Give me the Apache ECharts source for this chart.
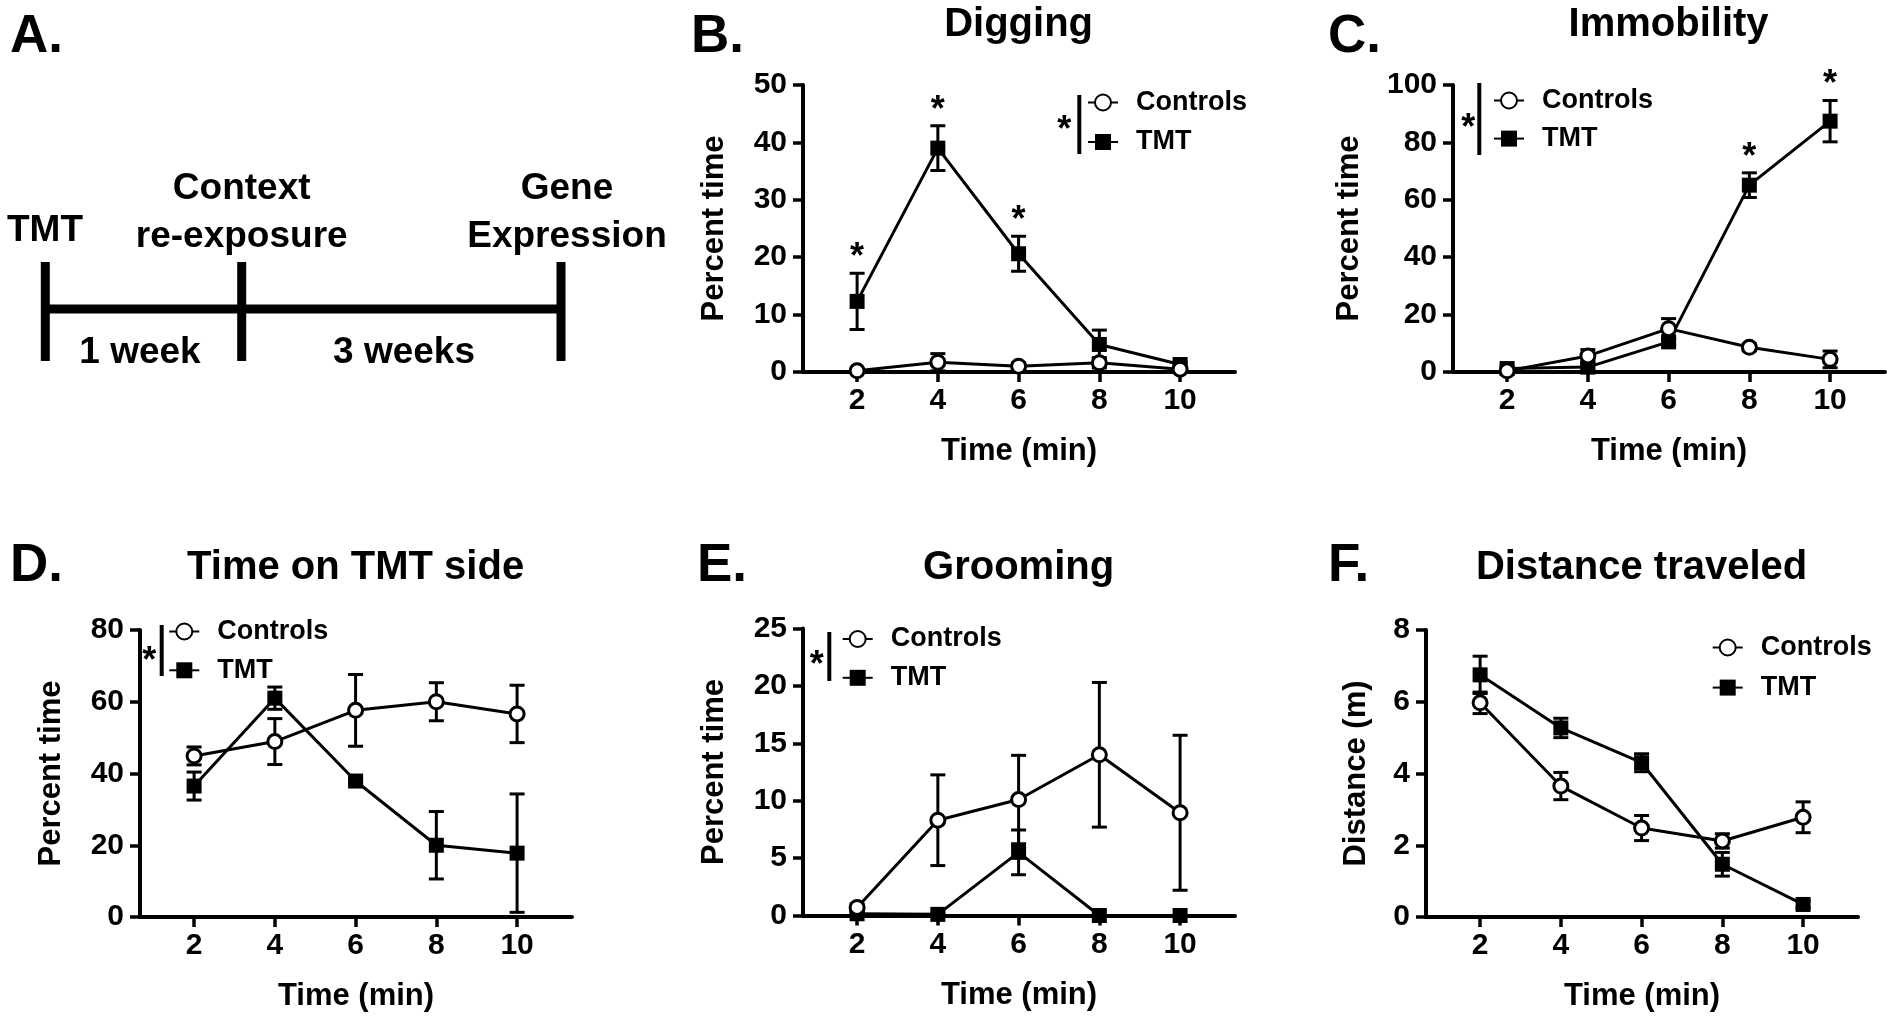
<!DOCTYPE html>
<html><head><meta charset="utf-8">
<script src="https://cdn.jsdelivr.net/npm/echarts@6/dist/echarts.min.js"></script>
<style>html,body{margin:0;padding:0;background:#fff}#c{width:1892px;height:1019px}</style>
</head><body><div id="c"></div>
<script>
// ---------------- data ----------------
const times = [2, 4, 6, 8, 10];
const xTicks = [2, 4, 6, 8, 10];

// B. Digging
const digCtrl = [0.2, 1.7, 1.0, 1.6, 0.5];
const digCtrlErr = [0.2, 1.5, 0.6, 0.9, 0.3];
const digTmt = [12.3, 39.0, 20.6, 4.8, 1.3];
const digTmtErr = [4.9, 3.9, 3.05, 2.5, 0.4];
const digStars = [2, 4, 6];

// C. Immobility
const immCtrl = [0.4, 5.6, 15.1, 8.6, 4.4];
const immCtrlErr = [0.8, 2.2, 3.5, 1.2, 2.9];
const immTmt = [1.2, 1.7, 10.5, 65.1, 87.4];
const immTmtErr = [0.8, 1.0, 1.2, 4.3, 7.2];
const immStars = [8, 10];

// D. Time on TMT side
const sideCtrl = [44.9, 48.9, 57.6, 60.0, 56.6];
const sideCtrlErr = [2.5, 6.4, 10.0, 5.3, 8.0];
const sideTmt = [36.5, 61.0, 37.9, 20.0, 17.8];
const sideTmtErr = [3.9, 3.1, 0.8, 9.4, 16.5];
const sideStars = [];

// E. Grooming
const groomCtrl = [0.7, 8.3, 10.1, 14.0, 8.95];
const groomCtrlErr = [0.3, 3.95, 3.85, 6.3, 6.75];
const groomTmt = [0.15, 0.1, 5.5, 0.0, 0.0];
const groomTmtErr = [0.1, 0.1, 1.95, 0, 0];
const groomStars = [];

// F. Distance traveled
const distCtrl = [5.97, 3.65, 2.48, 2.12, 2.78];
const distCtrlErr = [0.3, 0.38, 0.35, 0.2, 0.43];
const distTmt = [6.75, 5.27, 4.3, 1.47, 0.35];
const distTmtErr = [0.52, 0.27, 0.25, 0.33, 0.1];
const distStars = [];

const legendNames = ['Controls', 'TMT'];

// ---------------- layout ----------------
const FONT = '"Liberation Sans", Arial, sans-serif';
const panels = [
  {title: 'Digging', yName: 'Percent time', left: 803, top: 85, ymax: 50, yint: 10, nameGap: 73,
   ctrl: digCtrl, ctrlErr: digCtrlErr, tmt: digTmt, tmtErr: digTmtErr, stars: digStars,
   legLeft: 1087, legTop: 88.5, legGap: 11.5, sig: {bar: 1079.3, y1: 95, y2: 154, sx: 1064.3, sy: 121.7}},
  {title: 'Immobility', yName: 'Percent time', left: 1453, top: 85, ymax: 100, yint: 20, nameGap: 88,
   ctrl: immCtrl, ctrlErr: immCtrlErr, tmt: immTmt, tmtErr: immTmtErr, stars: immStars,
   legLeft: 1493, legTop: 86.5, legGap: 10.1, sig: {bar: 1479.3, y1: 83, y2: 155, sx: 1468.3, sy: 120}},
  {title: 'Time on TMT side', yName: 'Percent time', left: 140, top: 630, ymax: 80, yint: 20, nameGap: 73,
   ctrl: sideCtrl, ctrlErr: sideCtrlErr, tmt: sideTmt, tmtErr: sideTmtErr, stars: sideStars,
   legLeft: 168.3, legTop: 617.5, legGap: 10.8, sig: {bar: 161.7, y1: 625, y2: 676, sx: 149.3, sy: 653.3}},
  {title: 'Grooming', yName: 'Percent time', left: 803, top: 628.5, ymax: 25, yint: 5, nameGap: 73,
   ctrl: groomCtrl, ctrlErr: groomCtrlErr, tmt: groomTmt, tmtErr: groomTmtErr, stars: groomStars,
   legLeft: 841.7, legTop: 625, legGap: 10.8, sig: {bar: 829.3, y1: 632, y2: 681, sx: 816.7, sy: 656.7}},
  {title: 'Distance traveled', yName: 'Distance (m)', left: 1426, top: 630, ymax: 8, yint: 2, nameGap: 54,
   ctrl: distCtrl, ctrlErr: distCtrlErr, tmt: distTmt, tmtErr: distTmtErr, stars: distStars,
   legLeft: 1711.7, legTop: 633.5, legGap: 12.1, sig: null}
];
const GRID_W = 432, GRID_H = 287, XMIN = 0.66, XMAX = 11.36;

function errRender(params, api) {
  const x = api.value(0), y = api.value(1), e = api.value(2);
  if (!e) return null;
  const pt = api.coord([x, y + e]);
  const pb = api.coord([x, y - e]);
  const h = 7.5;
  const st = {stroke: '#000', lineWidth: 3, fill: null};
  return {type: 'group', children: [
    {type: 'line', shape: {x1: pt[0], y1: pt[1], x2: pb[0], y2: pb[1]}, style: st},
    {type: 'line', shape: {x1: pt[0] - h, y1: pt[1], x2: pt[0] + h, y2: pt[1]}, style: st},
    {type: 'line', shape: {x1: pb[0] - h, y1: pb[1], x2: pb[0] + h, y2: pb[1]}, style: st}
  ]};
}
function starRender(params, api) {
  const p = api.coord([api.value(0), api.value(1)]);
  return {type: 'text', x: p[0], y: p[1] - 15, style: {text: '*', font: 'bold 36px ' + FONT, fill: '#000', align: 'center', verticalAlign: 'middle'}};
}

const grid = [], xAxis = [], yAxis = [], series = [], title = [], legend = [], graphic = [];
const axisCommon = {
  axisLine: {show: true, onZero: false, lineStyle: {color: '#000', width: 4}},
  axisTick: {show: true, length: 10, lineStyle: {color: '#000', width: 3.5}},
  splitLine: {show: false},
  nameTextStyle: {color: '#000', fontWeight: 'bold', fontSize: 31, fontFamily: FONT}
};
const labelStyle = {color: '#000', fontWeight: 'bold', fontSize: 30, fontFamily: FONT};

panels.forEach((p, i) => {
  grid.push({left: p.left, top: p.top, width: GRID_W, height: GRID_H});
  xAxis.push(Object.assign({}, axisCommon, {
    type: 'value', gridIndex: i, min: XMIN, max: XMAX,
    name: 'Time (min)', nameLocation: 'middle', nameGap: 64,
    axisTick: Object.assign({}, axisCommon.axisTick, {customValues: xTicks}),
    axisLabel: Object.assign({}, labelStyle, {customValues: xTicks, margin: 14})
  }));
  yAxis.push(Object.assign({}, axisCommon, {
    type: 'value', gridIndex: i, min: 0, max: p.ymax, interval: p.yint,
    name: p.yName, nameLocation: 'middle', nameGap: p.nameGap,
    axisLabel: Object.assign({}, labelStyle, {margin: 16})
  }));
  series.push({type: 'custom', xAxisIndex: i, yAxisIndex: i, renderItem: errRender, z: 1, silent: true,
    encode: {x: 0, y: 1}, data: times.map((t, k) => [t, p.tmt[k], p.tmtErr[k]])});
  series.push({type: 'custom', xAxisIndex: i, yAxisIndex: i, renderItem: errRender, z: 1, silent: true,
    encode: {x: 0, y: 1}, data: times.map((t, k) => [t, p.ctrl[k], p.ctrlErr[k]])});
  series.push({type: 'line', name: 'TMT', xAxisIndex: i, yAxisIndex: i, z: 3,
    data: times.map((t, k) => [t, p.tmt[k]]), symbol: 'rect', symbolSize: 15, showAllSymbol: true,
    lineStyle: {color: '#000', width: 3}, itemStyle: {color: '#000'}, emphasis: {disabled: true}});
  series.push({type: 'line', name: 'Controls', xAxisIndex: i, yAxisIndex: i, z: 4,
    data: times.map((t, k) => [t, p.ctrl[k]]), symbol: 'circle', symbolSize: 14, showAllSymbol: true,
    lineStyle: {color: '#000', width: 3}, itemStyle: {color: '#fff', borderColor: '#000', borderWidth: 3},
    emphasis: {disabled: true}});
  if (p.stars.length) {
    series.push({type: 'custom', xAxisIndex: i, yAxisIndex: i, renderItem: starRender, z: 5, silent: true,
      encode: {x: 0, y: 1},
      data: p.stars.map(s => { const k = times.indexOf(s); return [s, p.tmt[k] + p.tmtErr[k]]; })});
  }
  const cx = p.left + GRID_W * (6 - XMIN) / (XMAX - XMIN);
  title.push({text: p.title, left: cx, top: i < 2 ? 5 : 548, textAlign: 'center', padding: 0,
    textStyle: {color: '#000', fontWeight: 'bold', fontSize: 40, fontFamily: FONT}});
  legend.push({data: legendNames, orient: 'vertical', left: p.legLeft, top: p.legTop, itemGap: p.legGap,
    itemWidth: 30, itemHeight: 20, padding: 0, selectedMode: false,
    textStyle: {color: '#000', fontWeight: 'bold', fontSize: 27, fontFamily: FONT, lineHeight: 28, padding: [0, 0, 0, 13]}});
  if (p.sig) {
    graphic.push({type: 'line', shape: {x1: p.sig.bar, y1: p.sig.y1, x2: p.sig.bar, y2: p.sig.y2}, style: {stroke: '#000', lineWidth: 4}});
    graphic.push({type: 'text', x: p.sig.sx, y: p.sig.sy + 9, style: {text: '*', font: 'bold 36px ' + FONT, fill: '#000', align: 'center', verticalAlign: 'middle'}});
  }
});

// Panel letters
const letters = [['A.', 10, 37], ['B.', 691, 37], ['C.', 1328, 37], ['D.', 10, 566], ['E.', 697, 566], ['F.', 1328, 566]];
letters.forEach(l => graphic.push({type: 'text', x: l[1], y: l[2], style: {text: l[0], font: 'bold 53px ' + FONT, fill: '#000', align: 'left', verticalAlign: 'middle'}}));

// Panel A timeline
const tl = {stroke: '#000', lineWidth: 9};
graphic.push({type: 'line', shape: {x1: 45, y1: 309, x2: 561, y2: 309}, style: tl});
[45.3, 241.7, 561].forEach(x => graphic.push({type: 'line', shape: {x1: x, y1: 262, x2: x, y2: 361}, style: tl}));
const tlText = [['TMT', 45, 231], ['Context', 241.7, 189], ['re-exposure', 241.7, 237], ['Gene', 567, 189],
  ['Expression', 567, 237], ['1 week', 140, 353], ['3 weeks', 404, 353]];
tlText.forEach(t => graphic.push({type: 'text', x: t[1], y: t[2], style: {text: t[0], font: 'bold 37px ' + FONT, fill: '#000', align: 'center', verticalAlign: 'middle'}}));

const chart = echarts.init(document.getElementById('c'), null, {renderer: 'canvas'});
chart.setOption({backgroundColor: '#fff', animation: false, grid, xAxis, yAxis, series, title, legend, graphic});
</script></body></html>
